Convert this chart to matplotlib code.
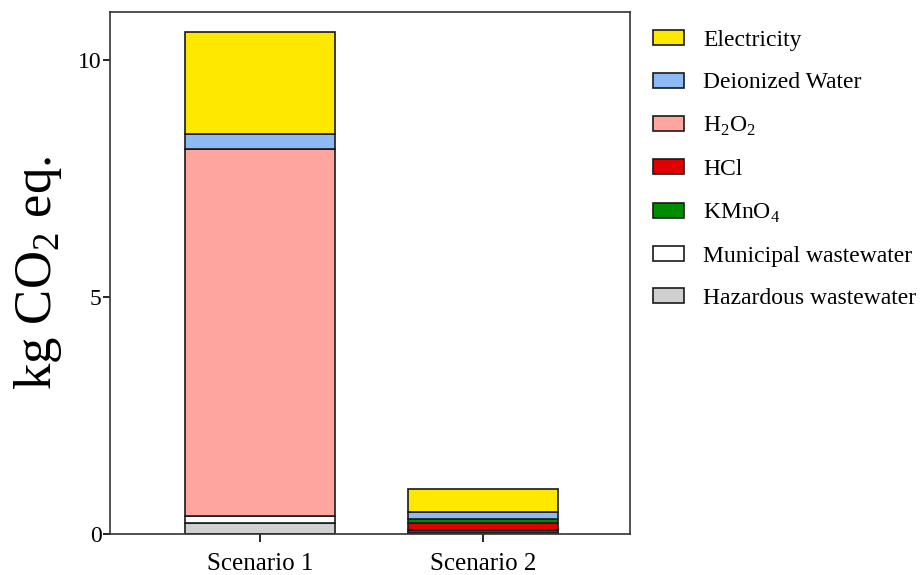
import numpy as np
import matplotlib.pyplot as plt

plt.rcParams['font.family'] = ['Liberation Serif', 'DejaVu Serif']
plt.rcParams['mathtext.fontset'] = 'custom'
plt.rcParams['mathtext.rm'] = 'Liberation Serif'

scenarios = ["Scenario 1", "Scenario 2"]

# contributions per scenario, kg CO2 eq.
hazardous = [0.23, 0.05]
municipal = [0.14, 0.04]
h2o2 = [7.74, 0.0]
hcl = [0.0, 0.14]
kmno4 = [0.0, 0.09]
di_water = [0.32, 0.14]
electricity = [2.15, 0.49]

# bottom-up stacking order
layers = [
    ("Hazardous wastewater", hazardous, "#d0d0d0"),
    ("Municipal wastewater", municipal, "#ffffff"),
    ("H$_2$O$_2$", h2o2, "#ffa5a0"),
    ("HCl", hcl, "#e00000"),
    ("KMnO$_4$", kmno4, "#008c00"),
    ("Deionized Water", di_water, "#8dbaf2"),
    ("Electricity", electricity, "#ffe800"),
]
legend_order = ["Electricity", "Deionized Water", "H$_2$O$_2$", "HCl",
                "KMnO$_4$", "Municipal wastewater", "Hazardous wastewater"]

fig = plt.figure(figsize=(9.21, 5.75), dpi=100)
ax = fig.add_axes([0.1194, 0.0713, 0.5646, 0.9077])

x = np.arange(len(scenarios))
bottom = np.zeros(len(scenarios))
handles = {}
for name, vals, col in layers:
    vals = np.array(vals)
    b = ax.bar(x, vals, 0.67, bottom=bottom, color=col, edgecolor="#1a1a1a",
               linewidth=1.2, label=name)
    handles[name] = b
    bottom += vals

ax.set_xlim(-0.673, 1.659)
ax.set_ylim(0, 11.0)
ax.set_yticks([0, 5, 10])
ax.set_xticks(x)
ax.set_xticklabels(scenarios, fontsize=18)
ax.tick_params(axis='y', labelsize=17, length=5, width=1.2, pad=1, direction='out')
ax.tick_params(axis='x', length=6, width=1.2, pad=8, direction='out')
for s in ax.spines.values():
    s.set_linewidth(1.2)
    s.set_color("#333333")
ax.set_ylabel("kg CO$_2$ eq.", fontsize=38, labelpad=10)

leg = ax.legend([handles[n] for n in legend_order], legend_order,
                loc="upper left", bbox_to_anchor=(1.004, 1.006), frameon=False,
                fontsize=17, handlelength=1.3, handleheight=0.6,
                labelspacing=0.9, handletextpad=0.8)

fig.savefig("out.png", dpi=100)
